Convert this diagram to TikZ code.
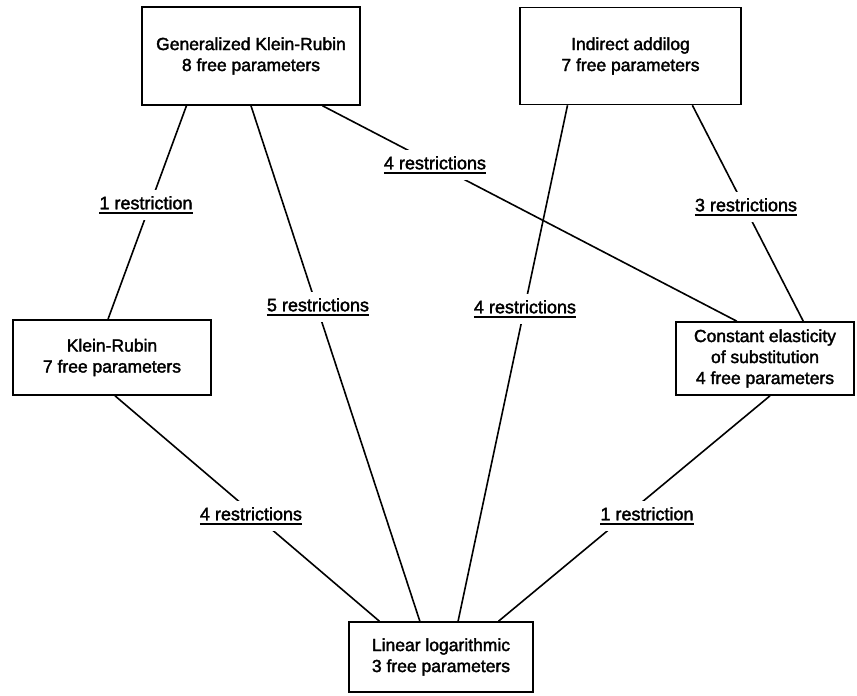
\documentclass[tikz,border=0pt]{standalone}
\usepackage{fontspec}
\setmainfont{Liberation Sans}[FakeBold=2]
\usetikzlibrary{calc}
\newcommand\restul[1]{\setbox0\hbox{#1}\rlap{\rule[-4.5pt]{\wd0}{1.6pt}}\box0}
\begin{document}
\begin{tikzpicture}[x=1pt,y=1pt,
  model/.style={draw, line width=1.6pt, align=center, inner sep=0pt, font=\fontsize{17.5}{21}\selectfont},
  link/.style={line width=1.6pt},
  restr/.style={fill=white, inner xsep=1pt, inner ysep=6pt, font=\fontsize{18}{21}\selectfont}]
\useasboundingbox (0,0) rectangle (857,-696);
% models
\node[model, minimum width=218pt, minimum height=98pt] (gkr) at (251,-56) {Generalized Klein-Rubin\\8 free parameters};
\node[model, minimum width=221pt, minimum height=97pt] (ia) at (630.5,-56) {Indirect addilog\\7 free parameters};
\node[model, minimum width=198pt, minimum height=75pt] (kr) at (112,-357.5) {Klein-Rubin\\7 free parameters};
\node[model, minimum width=178pt, minimum height=73pt] (ces) at (765,-358.5) {Constant elasticity\\of substitution\\4 free parameters};
\node[model, minimum width=184pt, minimum height=70pt] (ll) at (441,-657) {Linear logarithmic\\3 free parameters};
% connectors
\draw[link] ($(gkr.south west)!0.206!(gkr.south east)$) -- ($(kr.north west)!0.48!(kr.north east)$);
\draw[link] ($(gkr.south west)!0.5!(gkr.south east)$) -- ($(ll.north west)!0.386!(ll.north east)$);
\draw[link] ($(gkr.south west)!0.826!(gkr.south east)$) -- ($(ces.north west)!0.343!(ces.north east)$);
\draw[link] ($(ia.south west)!0.217!(ia.south east)$) -- ($(ll.north west)!0.592!(ll.north east)$);
\draw[link] ($(ia.south west)!0.778!(ia.south east)$) -- ($(ces.north west)!0.713!(ces.north east)$);
\draw[link] ($(kr.south west)!0.515!(kr.south east)$) -- ($(ll.north west)!0.168!(ll.north east)$);
\draw[link] ($(ces.south west)!0.528!(ces.south east)$) -- ($(ll.north west)!0.81!(ll.north east)$);
% restriction labels
\node[restr] (r1) at (146,-205) {\restul{1 restriction}};
\node[restr] (r5) at (318,-307) {\restul{5 restrictions}};
\node[restr] (r4a) at (435,-165) {\restul{4 restrictions}};
\node[restr] (r4b) at (525,-309) {\restul{4 restrictions}};
\node[restr] (r3) at (746,-207) {\restul{3 restrictions}};
\node[restr] (r4c) at (251,-516) {\restul{4 restrictions}};
\node[restr] (r1b) at (647,-516) {\restul{1 restriction}};
\end{tikzpicture}
\end{document}
